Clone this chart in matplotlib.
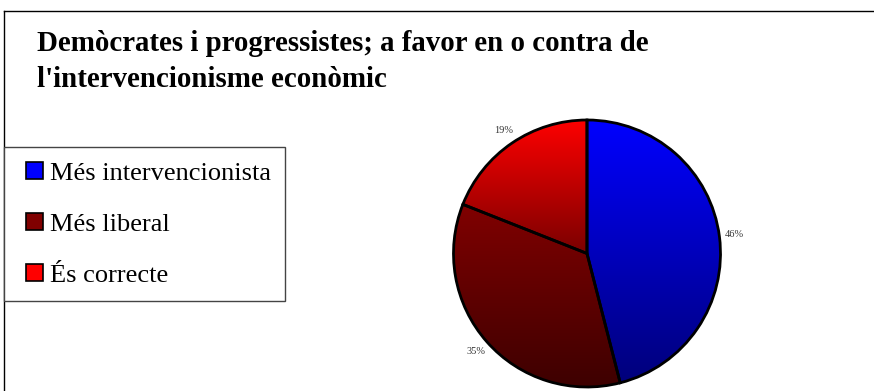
import numpy as np
import matplotlib.pyplot as plt
from matplotlib.colors import LinearSegmentedColormap, to_rgb
from matplotlib.patches import Rectangle
from matplotlib.lines import Line2D
from matplotlib.legend_handler import HandlerPatch

plt.rcParams['font.family'] = ['Liberation Serif', 'DejaVu Serif']

# dades
titol = ["Demòcrates i progressistes; a favor en o contra de",
         "l'intervencionisme econòmic"]
categories = ["Més intervencionista", "Més liberal", "És correcte"]
percentatges = [46, 35, 19]
colors = ["#0000ff", "#800000", "#ff0000"]

W, H = 874, 391
fig = plt.figure(figsize=(W / 100, H / 100), dpi=100)

# marc exterior (només es veuen la vora esquerra i la de dalt)
fig.add_artist(Line2D([4 / W, 4 / W], [0, 1 - 11 / H], color='black', lw=1.0))
fig.add_artist(Line2D([4 / W, 1], [1 - 11 / H, 1 - 11 / H], color='black', lw=1.0))

# titol
fig.text(37 / W, 1 - 51 / H, titol[0], fontsize=20.8, fontweight='bold', va='baseline')
fig.text(37 / W, 1 - 87 / H, titol[1], fontsize=20.8, fontweight='bold', va='baseline')

# pastis
r = 133.5
cx, cy = 587, H - 253.5
ax = fig.add_axes([(cx - r) / W, (cy - r) / H, 2 * r / W, 2 * r / H])
wedges, texts = ax.pie(percentatges, startangle=90, counterclock=False,
                       labels=[f"{p}%" for p in percentatges], labeldistance=1.11,
                       wedgeprops=dict(edgecolor='black', linewidth=2.0),
                       textprops=dict(fontsize=7.5, color='#333333'))
for t in texts:
    t.set_ha('center')
    t.set_va('center')

# degradat vertical dins de cada porcio
for w, c in zip(wedges, colors):
    base = np.array(to_rgb(c))
    cmap = LinearSegmentedColormap.from_list('g', [base * 0.48, base])
    ext = w.get_path().get_extents()
    grad = np.linspace(0, 1, 256).reshape(-1, 1)
    im = ax.imshow(grad, extent=[ext.x0, ext.x1, ext.y0, ext.y1], origin='lower',
                   cmap=cmap, aspect='auto', zorder=w.get_zorder() - 0.1)
    im.set_clip_path(w)
    w.set_facecolor('none')

ax.set_xlim(-1, 1)
ax.set_ylim(-1, 1)
ax.set_aspect('equal')
ax.axis('off')


# quadrat de la llegenda, alineat a la dreta de la caixa del handle
def quadrat(legend, orig_handle, xdescent, ydescent, width, height, fontsize):
    return Rectangle((-xdescent + width - height, -ydescent), height, height)


handles = [Rectangle((0, 0), 1, 1, facecolor=c, edgecolor='black', lw=1.2) for c in colors]
leg = fig.legend(handles, categories, loc='upper left',
                 bbox_to_anchor=(4 / W, 0, 281 / W, 1 - 147 / H), mode='expand',
                 borderaxespad=0, fontsize=19, handlelength=0.93, handleheight=0.645,
                 handletextpad=0.27, labelspacing=1.06, borderpad=0.55,
                 handler_map={Rectangle: HandlerPatch(patch_func=quadrat)},
                 fancybox=False, framealpha=1, edgecolor='#444444')
leg.get_frame().set_linewidth(1.0)

fig.savefig('out.png', dpi=100)
